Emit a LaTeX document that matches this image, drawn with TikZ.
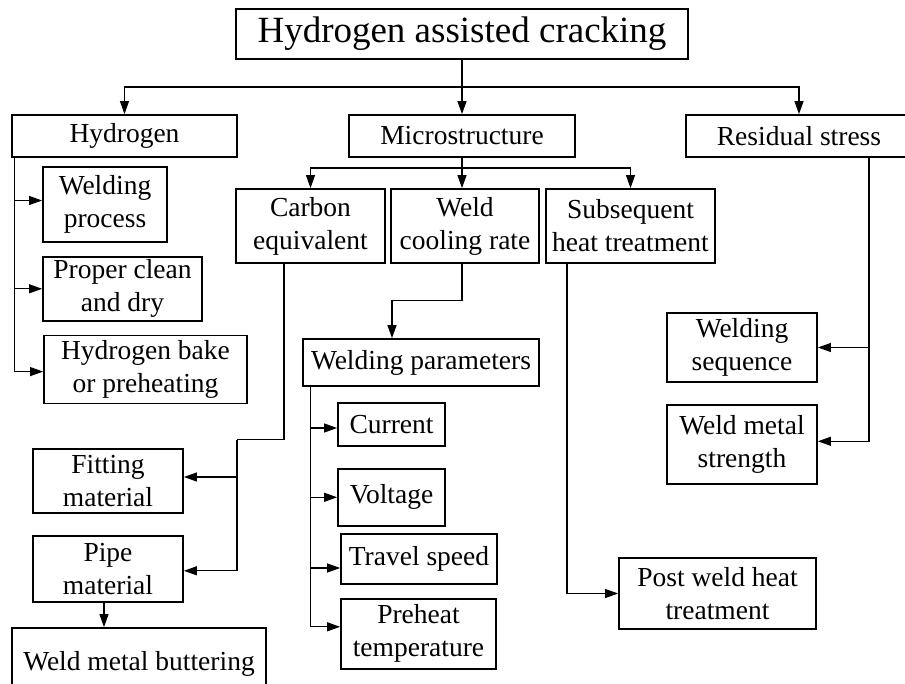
\documentclass[tikz,border=0pt]{standalone}
\usepackage{fontspec}
\setmainfont{Liberation Serif}
\usetikzlibrary{positioning,arrows.meta,calc}

\begin{document}
\begin{tikzpicture}[
    x=1pt, y=-1pt,
    box/.style={rectangle, draw=black, line width=1.8pt, inner sep=0pt, align=center, font=\fontsize{27.5}{33}\selectfont},
    arrow/.style={-{Triangle[length=13pt,width=9pt]}, line width=1.1pt},
    line/.style={line width=1.1pt}
]
\useasboundingbox (0,0) rectangle (905,684);

% Top
\node[box, minimum width=452pt, minimum height=50pt, font=\fontsize{37}{44}\selectfont] (hac) at (462,34) {Hydrogen assisted cracking};

% Main factors
\node[box, minimum width=225pt, minimum height=42pt] (hyd) at (124.5,136) {Hydrogen};
\node[box, minimum width=226pt, minimum height=42pt] (micro) at (462,136) {Microstructure};
\node[box, minimum width=226pt, minimum height=42pt] (resid) at (799,136) {Residual stress};
\coordinate (bus) at (462,87);
\draw[arrow] (hac.south) -- (micro.north);
\draw[arrow] (bus) -| (hyd.north);
\draw[arrow] (bus) -| (resid.north);

% Hydrogen
\node[box, minimum width=124pt, minimum height=75pt] (wproc) at (105,204.5) {Welding\\process};
\node[box, minimum width=159pt, minimum height=64pt, below=13pt of wproc.south west, anchor=north west] (clean) {Proper clean\\and dry};
\node[box, minimum width=203pt, minimum height=68pt, below=13pt of clean.south west, anchor=north west, xshift=1pt] (bake) {Hydrogen bake\\or preheating};
\draw[arrow] ([xshift=3pt]hyd.south west) |- ([yshift=4pt]wproc.west);
\draw[arrow] ([xshift=3pt]hyd.south west) |- (clean.west);
\draw[arrow] ([xshift=3pt]hyd.south west) |- ([yshift=-2pt]bake.west);

% Microstructure
\node[box, minimum width=149pt, minimum height=74pt] (carbon) at (310.5,226) {Carbon\\equivalent};
\node[box, minimum width=148pt, minimum height=74pt] (cool) at (465,226) {Weld\\cooling rate};
\node[box, minimum width=169pt, minimum height=74pt] (subseq) at (630.5,226) {Subsequent\\heat treatment};
\coordinate (mbus) at (462,168);
\draw[arrow] (micro.south) -- (micro.south |- cool.north);
\draw[arrow] (mbus) -| (carbon.north);
\draw[arrow] (mbus) -| (subseq.north);

% Carbon equivalent
\node[box, minimum width=150pt, minimum height=64pt] (fitting) at (108,481) {Fitting\\material};
\node[box, minimum width=150pt, minimum height=66pt, below=21pt of fitting.south west, anchor=north west] (pipe) {Pipe\\material};
\node[box, minimum width=254pt, minimum height=72pt] (butter) at (139,664) {Weld metal buttering};
\draw[line] ([xshift=-26.5pt]carbon.south) |- ++(-47,176) coordinate (cbend);
\draw[arrow] (cbend) |- ([yshift=4pt]fitting.east);
\draw[arrow] (cbend) |- ([yshift=-2pt]pipe.east);
\draw[arrow] ([xshift=-4pt]pipe.south) -- ([xshift=-4pt]pipe.south |- butter.north);

% Weld cooling rate
\node[box, minimum width=236pt, minimum height=47pt] (wparam) at (421,362.5) {Welding parameters};
\draw[arrow] ([xshift=-3pt]cool.south) -- ++(0,37) -| ([xshift=-29pt]wparam.north);
\node[box, minimum width=107pt, minimum height=43pt] (current) at (391.5,424.5) {Current};
\node[box, minimum width=107pt, minimum height=57pt, below=21pt of current.south west, anchor=north west] (voltage) {Voltage};
\node[box, minimum width=156pt, minimum height=50pt] (travel) at (419,559) {Travel speed};
\node[box, minimum width=155pt, minimum height=70pt, below=13pt of travel.south west, anchor=north west] (preheat) {Preheat\\temperature};
\coordinate (wspine) at ([xshift=8pt]wparam.south west);
\draw[arrow] (wspine) |- ([yshift=-3.5pt]current.west);
\draw[arrow] (wspine) |- (voltage.west);
\draw[arrow] (wspine) |- ([yshift=-9pt]travel.west);
\draw[arrow] (wspine) |- ([yshift=7pt]preheat.west);

% Subsequent heat treatment
\node[box, minimum width=197pt, minimum height=71pt] (post) at (717.5,593.5) {Post weld heat\\treatment};
\draw[arrow] ([xshift=-63.5pt]subseq.south) |- (post.west);

% Residual stress
\node[box, minimum width=150pt, minimum height=69pt] (wseq) at (742,347.5) {Welding\\sequence};
\node[box, minimum width=150pt, minimum height=79pt, below=21pt of wseq.south west, anchor=north west] (wms) {Weld metal\\strength};
\draw[arrow] ([xshift=70pt]resid.south) |- (wseq.east);
\draw[arrow] ([xshift=70pt]resid.south) |- ([yshift=3pt]wms.east);

\end{tikzpicture}
\end{document}
